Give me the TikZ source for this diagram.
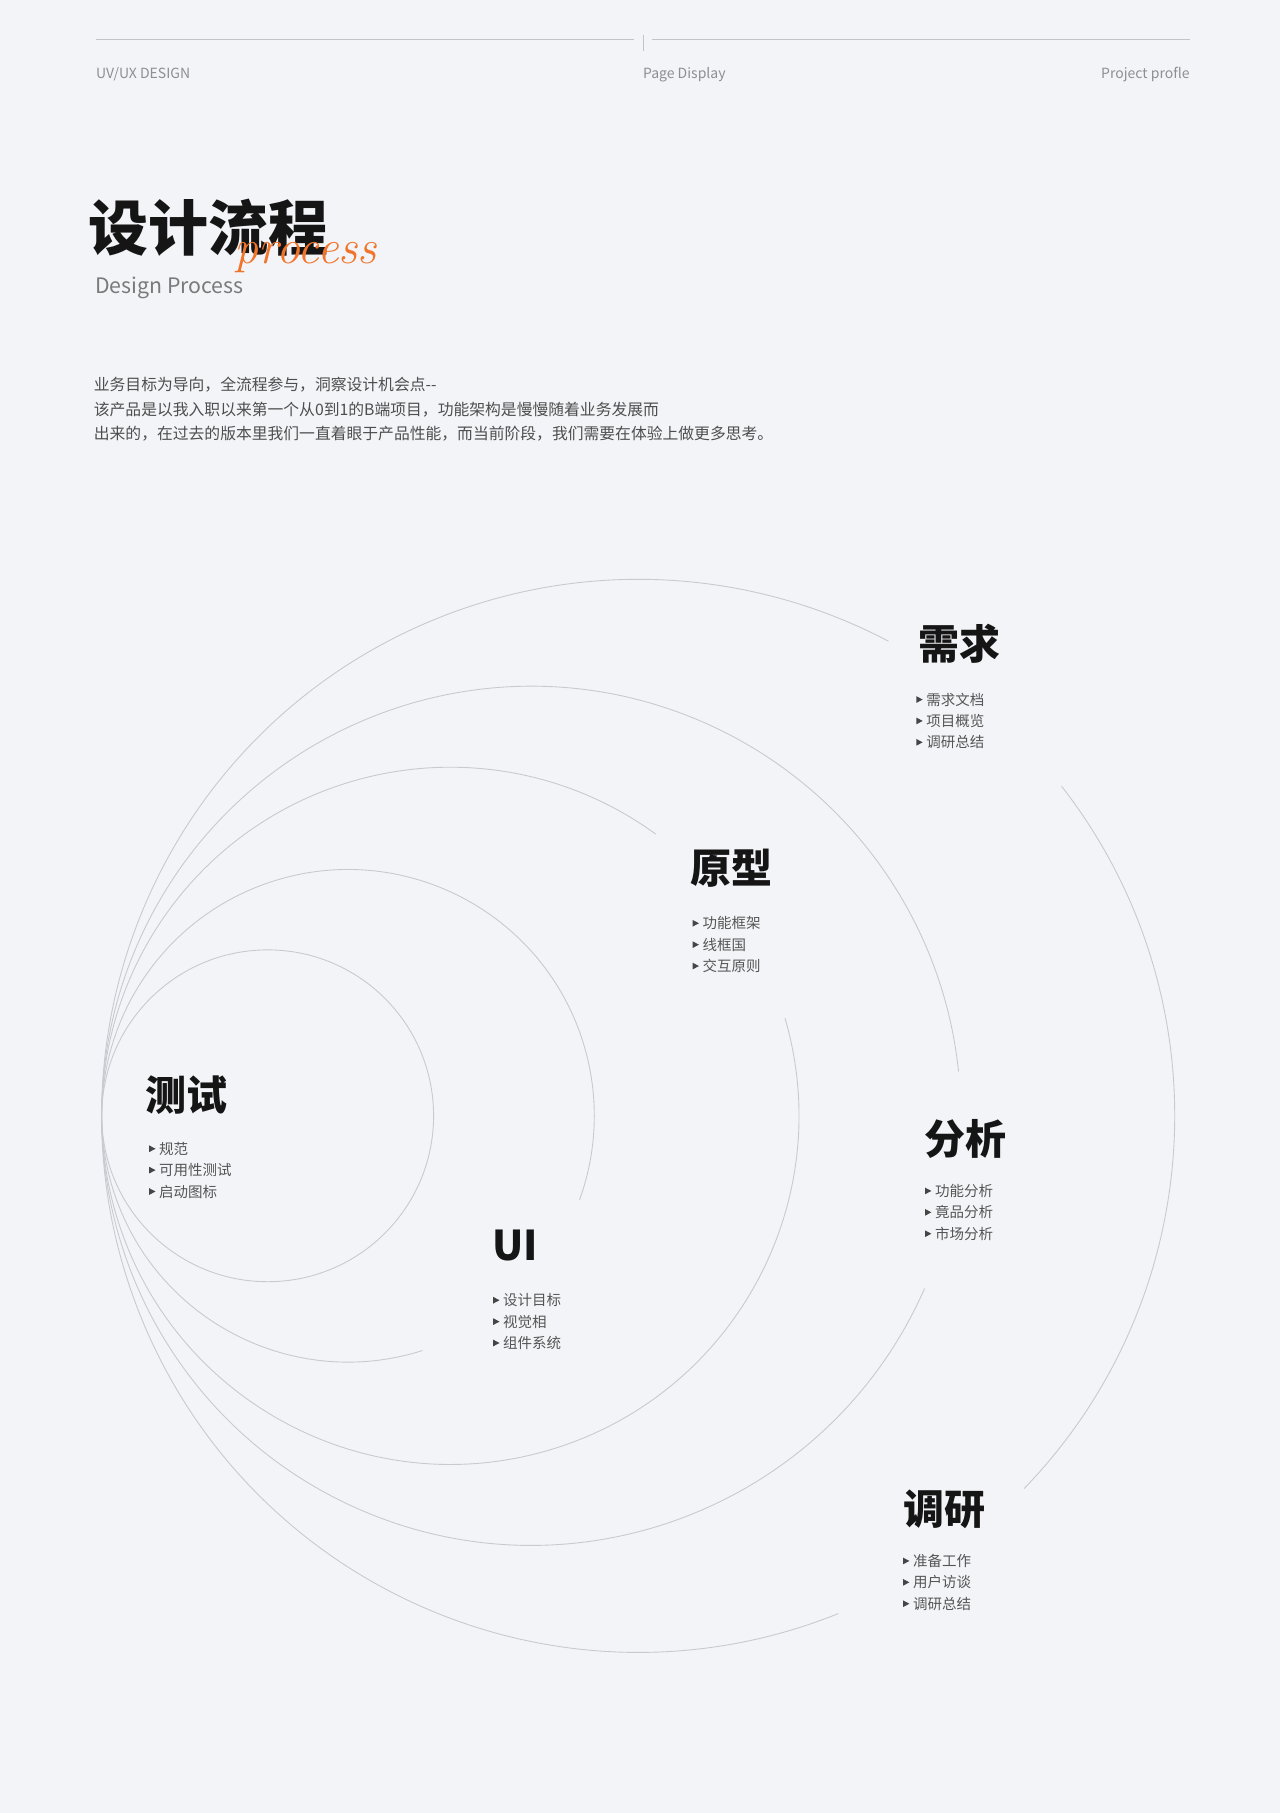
\documentclass[tikz,border=0pt]{standalone}
\usepackage{fontspec}
\usetikzlibrary{calc}
\newfontfamily\cjk{Noto Sans CJK SC}
\definecolor{bgc}{HTML}{F3F4F8}
\definecolor{circ}{HTML}{C9CACF}
\definecolor{hdrline}{HTML}{C2C4CA}
\definecolor{hdrtext}{HTML}{8E8E93}
\definecolor{titlec}{HTML}{151515}
\definecolor{subc}{HTML}{7A7A7A}
\definecolor{bodyc}{HTML}{4E4E4E}
\definecolor{itemc}{HTML}{555555}
\definecolor{bulc}{HTML}{454545}
\definecolor{orangec}{HTML}{F0752A}
\newcommand\itemlist[4]{%
  \foreach \t [count=\i from 0] in {#4}{%
    \fill[bullet] (#2,#3+\i*18.5-2.9) -- (#2+5.5,#3+\i*18.5) -- (#2,#3+\i*18.5+2.9) -- cycle;
    \node[itemtxt] (#1\i) at (#2+8.5,#3+\i*18.5) {\t};
  }}
\begin{document}
\begin{tikzpicture}[x=1.1563pt,y=-1.1563pt,
  arcline/.style={draw=circ,line width=0.9pt},
  hdr/.style={font=\cjk\fontsize{14}{14}\selectfont,text=hdrtext,inner sep=0},
  head/.style={font=\cjk\bfseries\fontsize{41}{41}\selectfont,text=titlec,inner sep=0,anchor=west},
  itemtxt/.style={font=\cjk\fontsize{14.5}{14.5}\selectfont,text=itemc,inner sep=0,anchor=west},
  bodytxt/.style={font=\cjk\fontsize{15.8}{15.8}\selectfont,text=bodyc,inner sep=0,anchor=west},
  bullet/.style={fill=bulc}]
\useasboundingbox (0,0) rectangle (1107,1568);
\fill[bgc] (0,0) rectangle (1107,1568);
% header
\coordinate (l1a) at (83,34); \coordinate (l1b) at (548,34);
\coordinate (l2a) at (564,34); \coordinate (l2b) at (1029,34);
\coordinate (tka) at (556,30); \coordinate (tkb) at (556,44);
\draw[hdrline,line width=1.3pt] (l1a) -- (l1b);
\draw[hdrline,line width=1.3pt] (l2a) -- (l2b);
\draw[hdrline,line width=0.7pt] (tka) -- (tkb);
\node[hdr,anchor=base west] (h1) at (83,67.5) {UV/UX DESIGN};
\node[hdr,anchor=base west] (h2) at (556,67.5) {Page Display};
\node[hdr,anchor=base east] (h3) at (1029,67.5) {Project profle};
% title
\node[font=\cjk\bfseries\fontsize{60}{60}\selectfont,text=titlec,inner sep=0,anchor=west] (title) at (76,197) {设计流程};
\node[font=\rmfamily\itshape\fontsize{48}{48}\selectfont,text=orangec,inner sep=0,anchor=base west] (proc) at (203,228) {process};
\node[font=\cjk\fontsize{21.3}{21.3}\selectfont,text=subc,inner sep=0,anchor=base west] (sub) at (82,254) {Design Process};
% body
\node[bodytxt] (p1) at (81,333) {业务目标为导向，全流程参与，洞察设计机会点--};
\node[bodytxt] (p2) at (81,354) {该产品是以我入职以来第一个从0到1的B端项目，功能架构是慢慢随着业务发展而};
\node[bodytxt] (p3) at (81,375) {出来的，在过去的版本里我们一直着眼于产品性能，而当前阶段，我们需要在体验上做更多思考。};
% circles
\draw[arcline] (231.5,965) circle[radius=143.5];
\draw[arcline] ($(301,965)+(72.4:213)$) arc[start angle=72.4,end angle=380,radius=213];
\draw[arcline] ($(389.5,965)+(-16.3:301.5)$) arc[start angle=-16.3,end angle=306.1,radius=301.5];
\draw[arcline] ($(459.5,965)+(23.7:371.5)$) arc[start angle=23.7,end angle=354.1,radius=371.5];
\draw[arcline] ($(552,965)+(-37.9:464)$) arc[start angle=-37.9,end angle=44.0,radius=464];
\draw[arcline] ($(552,965)+(68.1:464)$) arc[start angle=68.1,end angle=297.8,radius=464];
% headings
\node[head] (xq) at (794.5,557) {需求};
\node[head] (yx) at (597,751) {原型};
\node[head] (fx) at (799.5,985) {分析};
\node[head] (dy) at (781.5,1305) {调研};
\node[head] (ui) at (425.5,1077) {UI};
\node[head] (cs) at (126,947) {测试};
% items
\itemlist{xqi}{792.5}{605}{需求文档,项目概览,调研总结}
\itemlist{yxi}{599}{798.5}{功能框架,线框国,交互原则}
\itemlist{fxi}{800}{1030}{功能分析,竟品分析,市场分析}
\itemlist{dyi}{781}{1350}{准备工作,用户访谈,调研总结}
\itemlist{uii}{426.5}{1124.5}{设计目标,视觉相,组件系统}
\itemlist{csi}{129}{993.5}{规范,可用性测试,启动图标}
\end{tikzpicture}
\end{document}
